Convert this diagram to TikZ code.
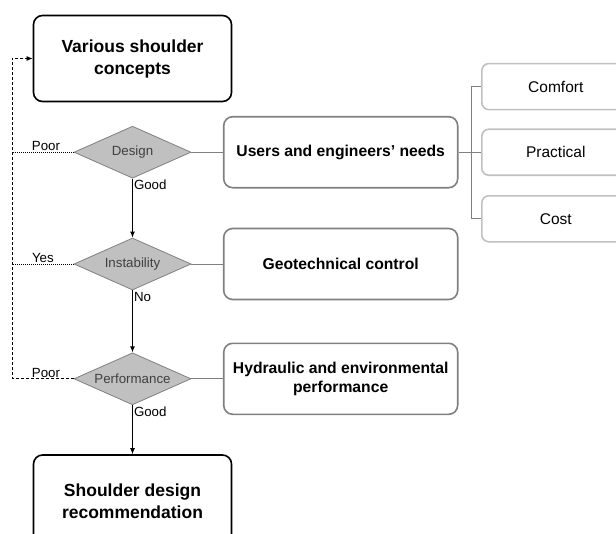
\documentclass[tikz,border=0pt]{standalone}
\usepackage{fontspec}
\setmainfont{Liberation Sans}
\usetikzlibrary{shapes.geometric,positioning,arrows.meta}

\definecolor{boxgray}{HTML}{808080}
\definecolor{itemgray}{HTML}{C0C0C0}
\definecolor{diamondgray}{HTML}{C0C0C0}
\definecolor{textgray}{HTML}{404040}

\begin{document}
\begin{tikzpicture}[x=1pt, y=1pt,
% Box styles
		mainbox/.style={rectangle
							    , rounded corners=9pt
							    , draw=black, line width=1.6pt
							    , minimum width=198pt
							    , minimum height=86pt
							    , align=center
							    , font=\fontsize{17.5}{22}\selectfont\bfseries},
		needbox/.style={rectangle
							    , rounded corners=9pt
							    , draw=boxgray, line width=1.6pt
							    , minimum width=234pt
							    , minimum height=71pt
							    , align=center
							    , font=\fontsize{15.7}{19.5}\selectfont\bfseries},
		itembox/.style={rectangle
							    , rounded corners=7pt
							    , draw=itemgray, line width=1.6pt
							    , minimum width=148pt
							    , minimum height=46pt
							    , font=\fontsize{15.5}{18}\selectfont},
% Decision style
		check/.style={diamond
							    , aspect=2.25
							    , fill=diamondgray
							    , draw=boxgray, line width=0.8pt
							    , minimum width=117pt
							    , minimum height=52pt
							    , inner sep=1pt
							    , text=textgray
							    , font=\fontsize{13.3}{16}\selectfont},
		answer/.style={inner sep=1pt
							    , font=\fontsize{13.3}{16}\selectfont},
% Edge styles
		flow/.style={-{Latex[length=6pt, width=5pt]}, line width=1pt},
		link/.style={draw=boxgray, line width=1pt},
		retry/.style={-{Latex[length=6pt, width=5pt]}, densely dashed, line width=1pt},
		skip/.style={densely dotted, line width=1pt}
	]
	\useasboundingbox (0,0) rectangle (616,-533);
	\clip (0,0) rectangle (616,-533);
%% Main column
	\node [mainbox] (concepts) at (132.5,-58.5) {Various shoulder\\concepts};
	\node [check] (design) [below=23.5pt of concepts] {Design};
	\node [check] (instab) [below=59pt of design] {Instability};
	\node [check] (perf) [below=62pt of instab] {Performance};
	\node [mainbox, minimum height=92pt] (recomm) [below=49pt of perf] {Shoulder design\\recommendation};
%% Checks on the right
	\node [needbox] (users) [right=31.5pt of design] {Users and engineers' needs};
	\node [needbox] (geotech) [right=31.5pt of instab] {Geotechnical control};
	\node [needbox] (hydro) [right=31.5pt of perf] {Hydraulic and environmental\\performance};
	\node [itembox] (practical) [right=22.5pt of users] {Practical};
	\node [itembox] (comfort) [above=18pt of practical] {Comfort};
	\node [itembox] (cost) [below=19pt of practical] {Cost};
%% Edges
	\draw [flow] (design.south) -- node [answer, at start, anchor=north west] {Good} (instab.north);
	\draw [flow] (instab.south) -- node [answer, at start, anchor=north west] {No} (perf.north);
	\draw [flow] (perf.south) -- node [answer, at start, anchor=north west] {Good} (recomm.north);
	\draw [retry] (perf.west) -- node [answer, above, pos=.45] {Poor} ++(-61.5,0) coordinate (turn)
		|- (concepts.west);
	\draw [skip] (design.west) -- node [answer, above, pos=.45] {Poor} (design.west -| turn);
	\draw [skip] (instab.west) -- node [answer, above, pos=.5] {Yes} (instab.west -| turn);
	\draw [link] (design.east) -- (users.west);
	\draw [link] (instab.east) -- (geotech.west);
	\draw [link] (perf.east) -- (hydro.west);
	\draw [link, line width=0.8pt] (users.east) -- ++(12.5pt,0) coordinate (fork) -- (practical.west);
	\draw [link, line width=0.8pt] (fork) |- (comfort.west);
	\draw [link, line width=0.8pt] (fork) |- (cost.west);
\end{tikzpicture}
\end{document}
